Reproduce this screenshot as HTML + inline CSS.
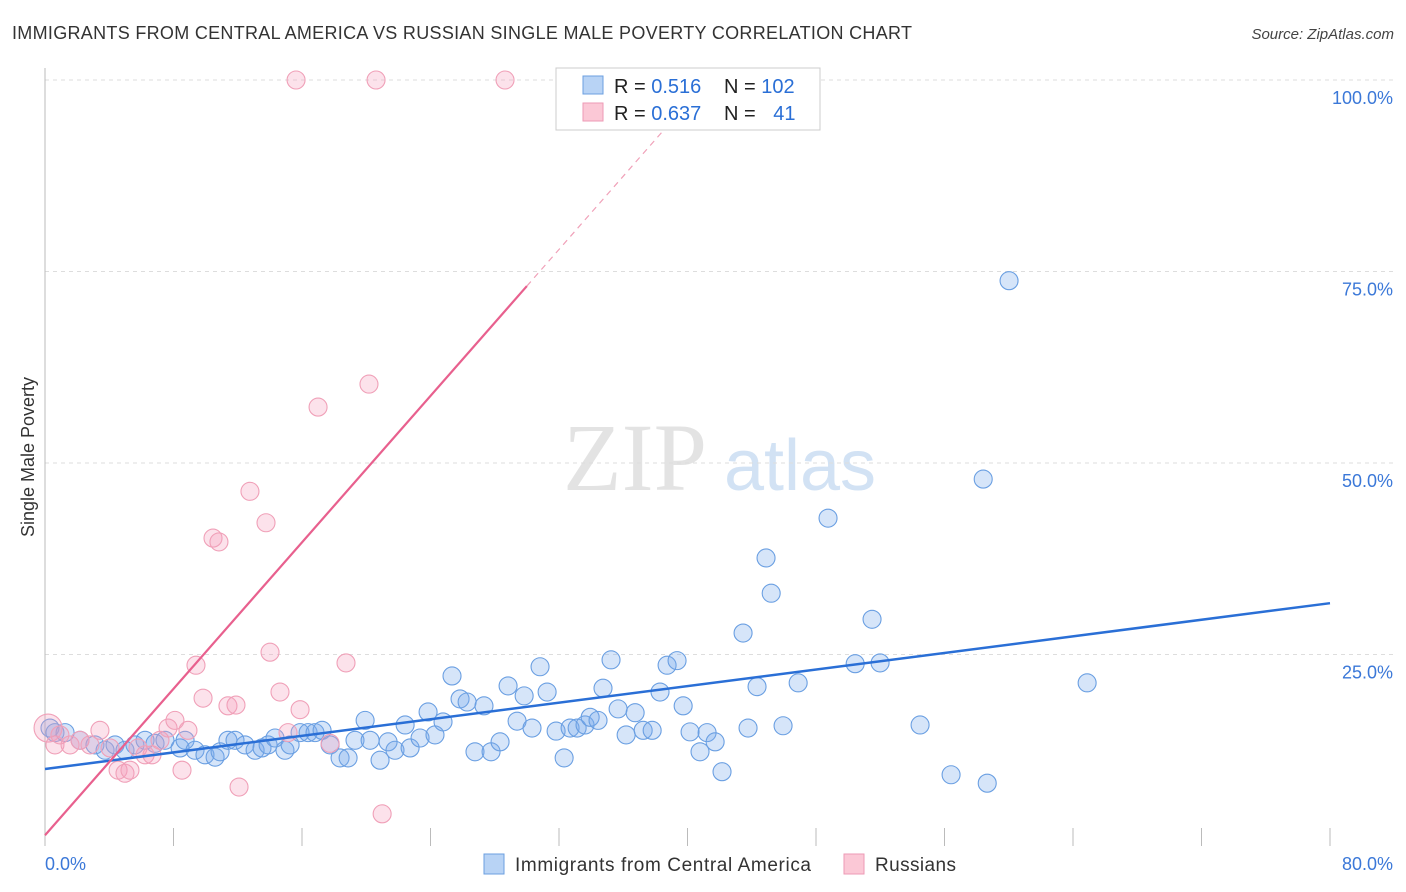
<!DOCTYPE html>
<html><head><meta charset="utf-8">
<style>
body{margin:0;background:#fff;font-family:"Liberation Sans",sans-serif;}
svg{display:block}
</style></head>
<body>
<svg id="chart" width="1406" height="892">
<text x="12" y="39" font-size="18" fill="#333" textLength="900" lengthAdjust="spacing">IMMIGRANTS FROM CENTRAL AMERICA VS RUSSIAN SINGLE MALE POVERTY CORRELATION CHART</text>
<text x="1394" y="39" font-size="15" fill="#444" text-anchor="end" font-style="italic">Source: ZipAtlas.com</text>
<text x="34" y="457" font-size="18" fill="#333" text-anchor="middle" transform="rotate(-90 34 457)">Single Male Poverty</text>
<g>
<text x="635" y="490" font-size="96" fill="#ddd" text-anchor="middle" font-family="Liberation Serif" opacity="0.8">ZIP</text>
<text x="800" y="490" font-size="72" fill="#c8dcf2" text-anchor="middle" opacity="0.8">atlas</text>
</g>
<g id="grid"></g>
<g id="axes"></g>
<g id="blue"></g>
<g id="pink"></g>
<g id="lines"></g>
<g>
<rect x="556" y="68" width="264" height="62" fill="#fff" stroke="#ccc"/>
<rect x="583" y="76" width="20" height="18" fill="#b8d3f5" stroke="#6b9fe0"/>
<rect x="583" y="103" width="20" height="18" fill="#fbc8d6" stroke="#ee9ab5"/>
<text x="614" y="93" font-size="20" fill="#222">R = <tspan fill="#2a6fd6">0.516</tspan></text>
<text x="724" y="93" font-size="20" fill="#222">N = <tspan fill="#2a6fd6">102</tspan></text>
<text x="614" y="120" font-size="20" fill="#222">R = <tspan fill="#2a6fd6">0.637</tspan></text>
<text x="724" y="120" font-size="20" fill="#222">N = <tspan fill="#2a6fd6" dx="12">41</tspan></text>
</g>
<g>
<rect x="484" y="854" width="20" height="20" fill="#b8d3f5" stroke="#6b9fe0"/>
<text x="515" y="871" font-size="19" fill="#333" textLength="296" lengthAdjust="spacing">Immigrants from Central America</text>
<rect x="844" y="854" width="20" height="20" fill="#fbc8d6" stroke="#ee9ab5"/>
<text x="875" y="871" font-size="19" fill="#333" textLength="81" lengthAdjust="spacing">Russians</text>
</g>
</svg>
<script>
const blueX=[0.31,0.62,1.25,2.18,3.11,3.74,4.36,4.98,5.60,6.23,6.85,7.47,8.41,8.72,9.34,9.96,10.59,10.90,11.39,11.83,12.45,13.08,13.51,13.89,14.32,14.94,15.26,15.88,16.38,16.81,17.25,17.75,18.37,18.87,19.30,19.93,20.24,20.86,21.36,21.79,22.42,22.73,23.35,23.85,24.28,24.78,25.34,25.84,26.28,26.77,27.33,27.77,28.33,28.83,29.39,29.83,30.32,30.82,31.26,31.82,32.32,32.69,33.13,33.62,33.94,34.43,34.74,35.24,35.68,36.18,36.74,37.24,37.80,38.29,38.73,39.35,39.73,40.16,40.78,41.22,41.72,42.15,43.46,43.77,44.33,44.89,45.21,45.95,46.89,48.75,50.44,51.49,51.99,54.48,56.41,58.41,58.66,60.02,64.88];
const blueY=[15.4,14.8,14.8,13.8,13.2,12.5,13.2,12.5,13.2,13.8,13.4,13.8,12.8,13.8,12.5,11.9,11.6,12.3,13.8,13.8,13.2,12.5,12.8,13.2,14.1,12.5,13.2,14.8,14.8,14.8,15.1,13.2,11.5,11.5,13.8,16.4,13.8,11.2,13.6,12.5,15.8,12.8,14.1,17.5,14.5,16.2,22.2,19.2,18.8,12.3,18.3,12.3,13.6,20.9,16.3,19.6,15.4,23.4,20.1,15.0,11.5,15.4,15.4,15.8,16.8,16.4,20.6,24.3,17.9,14.5,17.4,15.1,15.1,20.1,23.6,24.2,18.3,14.9,12.3,14.8,13.6,9.7,27.8,15.4,20.8,37.6,33.0,15.7,21.3,42.8,23.8,29.6,23.9,15.8,9.3,47.9,8.2,73.8,21.3];
const pinkX=[0.19,0.62,0.93,1.56,2.18,2.80,3.42,4.05,4.55,4.98,5.29,5.79,6.23,6.66,7.16,7.66,8.09,8.53,8.90,9.40,9.84,10.46,10.83,11.39,11.89,12.08,12.76,13.76,14.01,14.63,15.13,15.63,15.88,17.00,17.75,18.74,20.17,20.61,20.99,28.64];
const pinkY=[15.4,13.2,14.5,13.2,13.8,13.2,15.1,12.8,9.9,9.5,9.9,12.8,11.9,11.9,13.8,15.4,16.4,9.9,15.1,23.6,19.3,40.2,39.7,18.3,18.4,7.7,46.3,42.2,25.3,20.1,14.8,100,17.8,57.3,13.4,23.9,60.3,100,4.2,100];
const blueTrend=[10.05,31.7];   // y at x=0 and x=80
const pinkTrend=[1.4,2.39];     // intercept, slope
const yTicks=[25,50,75,100];
const yTickLabels=["25.0%","50.0%","75.0%","100.0%"];
const xTicks=[0,8,16,24,32,40,48,56,64,72,80];

const NS="http://www.w3.org/2000/svg";
const X=v=>45+v/80*1285;
const Y=v=>846-v/100*766;
function mk(tag,attrs,parent){const e=document.createElementNS(NS,tag);for(const k in attrs)e.setAttribute(k,attrs[k]);parent.appendChild(e);return e;}
const grid=document.getElementById('grid'),axes=document.getElementById('axes');
yTicks.forEach((t,i)=>{
  const l=mk('line',{x1:45,x2:1394,y1:Y(t),y2:Y(t),stroke:'#ddd','stroke-dasharray':'4,4'},grid);
  
  
  const tx=mk('text',{x:1393,y:Y(t)+24,'font-size':18,fill:'#3b78d8','text-anchor':'end'},axes);
  tx.textContent=yTickLabels[i];
  
  
});
const ax=mk('line',{x1:45,x2:45,y1:68,y2:846,stroke:'#bbb'},axes);


xTicks.forEach(t=>{
  if(t===0)return;
  const l=mk('line',{x1:X(t),x2:X(t),y1:828,y2:846,stroke:'#bbb'},axes);
  
  
});
const x0=mk('text',{x:45,y:870,'font-size':18,fill:'#3b78d8'},axes);x0.textContent="0.0%";


const x1=mk('text',{x:1393,y:870,'font-size':18,fill:'#3b78d8','text-anchor':'end'},axes);x1.textContent="80.0%";



const bg=document.getElementById('blue');
blueX.forEach((x,i)=>{
  const c=mk('circle',{cx:X(x),cy:Y(blueY[i]),r:9,fill:'rgba(120,170,235,0.3)',stroke:'#6a9fe2','stroke-width':1.1},bg);
  
  
});
const pg=document.getElementById('pink');
pinkX.forEach((x,i)=>{
  const c=mk('circle',{cx:X(x),cy:Y(pinkY[i]),r:i===0?14:9,fill:'rgba(245,160,190,0.3)',stroke:'#f0a0b8','stroke-width':1.1},pg);
  
  
});
const lg=document.getElementById('lines');
const bl=mk('line',{x1:X(0),y1:Y(blueTrend[0]),x2:X(80),y2:Y(blueTrend[1]),stroke:'#2a6fd6','stroke-width':2.5},lg);


const pEnd=30, pDash=38.5;
const pl=mk('line',{x1:X(0),y1:Y(pinkTrend[0]),x2:X(pEnd),y2:Y(pinkTrend[0]+pinkTrend[1]*pEnd),stroke:'#e8608e','stroke-width':2.2},lg);


const pd=mk('line',{x1:X(pEnd),y1:Y(pinkTrend[0]+pinkTrend[1]*pEnd),x2:X(pDash),y2:Y(pinkTrend[0]+pinkTrend[1]*pDash),stroke:'#f0a0b8','stroke-width':1.2,'stroke-dasharray':'6,5'},lg);


</script>
</body></html>
